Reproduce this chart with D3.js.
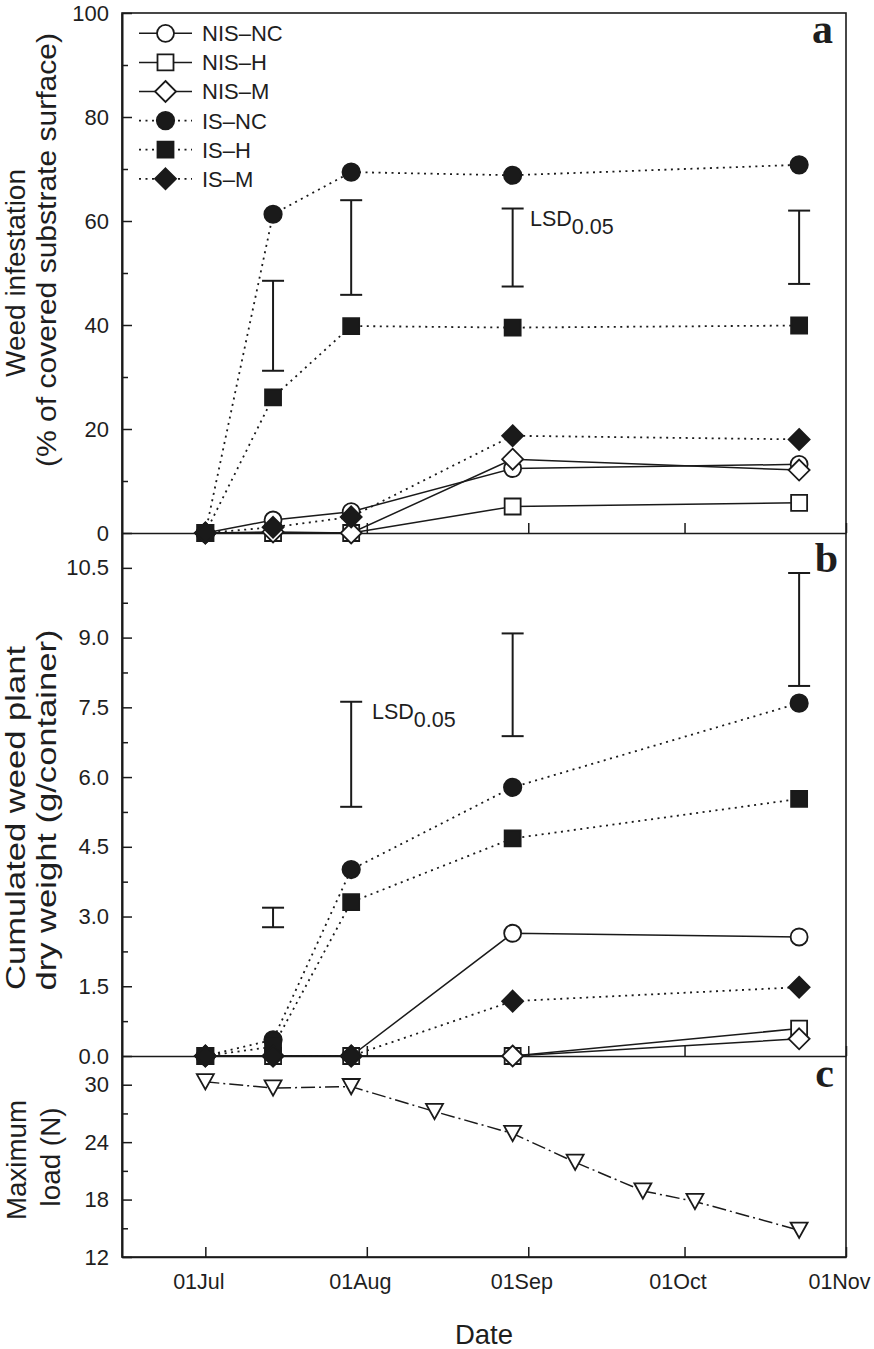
<!DOCTYPE html>
<html><head><meta charset="utf-8">
<script src="https://cdn.jsdelivr.net/npm/d3@7"></script>
<style>
body{margin:0;background:#fff}
text{font-family:"Liberation Sans",Arial,sans-serif;fill:#1e1e1e}
</style>
</head><body>
<svg id="chart" width="874" height="1349"></svg>
<script>
// ---------- DATA ----------
const sampleDates = ["2010-07-01","2010-07-14","2010-07-29","2010-08-29","2010-10-23"];
const seriesNames = ["NIS\u2013NC","NIS\u2013H","NIS\u2013M","IS\u2013NC","IS\u2013H","IS\u2013M"];

// panel a: weed infestation (% of covered substrate surface)
const coverNIS_NC = [0, 2.5, 4.1, 12.4, 13.2];
const coverNIS_H  = [0, 0, 0, 5.1, 5.8];
const coverNIS_M  = [0, 0.2, 0, 14.2, 12.1];
const coverIS_NC  = [0, 61.3, 69.4, 68.8, 70.8];
const coverIS_H   = [0, 26.1, 39.8, 39.5, 39.9];
const coverIS_M   = [0, 1.1, 3.1, 18.7, 18.0];
const coverLSDDates = ["2010-07-14","2010-07-29","2010-08-29","2010-10-23"];
const coverLSDLow   = [31.2, 45.8, 47.4, 47.9];
const coverLSDHigh  = [48.5, 64.0, 62.4, 62.0];

// panel b: cumulated weed plant dry weight (g/container)
const dwNIS_NC = [0, 0, 0, 2.64, 2.56];
const dwNIS_H  = [0, 0, 0, 0, 0.59];
const dwNIS_M  = [0, 0, 0, 0, 0.37];
const dwIS_NC  = [0, 0.35, 4.01, 5.78, 7.59];
const dwIS_H   = [0, 0.2, 3.31, 4.68, 5.53];
const dwIS_M   = [0, 0, 0, 1.18, 1.48];
const dwLSDDates = ["2010-07-14","2010-07-29","2010-08-29","2010-10-23"];
const dwLSDLow   = [2.77, 5.36, 6.88, 7.96];
const dwLSDHigh  = [3.19, 7.62, 9.09, 10.39];

// panel c: maximum load (N)
const loadDates  = ["2010-07-01","2010-07-14","2010-07-29","2010-08-14","2010-08-29","2010-09-10","2010-09-23","2010-10-03","2010-10-23"];
const loadValues = [30.3, 29.65, 29.8, 27.2, 24.9, 21.9, 18.9, 17.8, 14.8];

// ticks
const xTickDates = ["2010-07-01","2010-08-01","2010-09-01","2010-10-01","2010-11-01"];
const yTicksA = [0,20,40,60,80,100];
const yMinorA = [10,30,50,70,90];
const yTicksB = [0,1.5,3,4.5,6,7.5,9,10.5];
const yMinorB = [0.75,2.25,3.75,5.25,6.75,8.25,9.75];
const yTicksC = [12,18,24,30];
const yMinorC = [15,21,27];

// ---------- SETUP ----------
const parse = d3.timeParse("%Y-%m-%d");
const svg = d3.select("#chart");
const L = 122, R = 846;
const x = d3.scaleTime().domain([parse("2010-06-15"), parse("2010-11-01")]).range([L, R]);
const ya = d3.scaleLinear().domain([0,100]).range([533,13]);
const yb = d3.scaleLinear().domain([0,11.25]).range([1056,533]);
const yc = d3.scaleLinear().domain([12,33]).range([1257,1056]);

const INK = "#1a1a1a";

// custom symbol shapes
const symDiamond = {draw(c, s){ const h = Math.sqrt(s)/2; c.moveTo(0,-h); c.lineTo(h,0); c.lineTo(0,h); c.lineTo(-h,0); c.closePath(); }};
const symTriDown = {draw(c, s){ const w = Math.sqrt(s)/2; const h = w*0.9; c.moveTo(-w,-h); c.lineTo(w,-h); c.lineTo(0,h); c.closePath(); }};
const shapes = [
  {type:d3.symbolCircle, size:Math.PI*8.5*8.5, fill:"#fff"},
  {type:d3.symbolSquare, size:16*16, fill:"#fff"},
  {type:symDiamond, size:21*21, fill:"#fff"},
  {type:d3.symbolCircle, size:Math.PI*8.7*8.7, fill:INK},
  {type:d3.symbolSquare, size:16*16, fill:INK},
  {type:symDiamond, size:21*21, fill:INK}
];
const dashes = [null,null,null,"2,4.5","2,4.5","2,4.5"];

const dates = sampleDates.map(parse);

function drawPanel(y, seriesArr){
  const g = svg.append("g");
  seriesArr.forEach((vals,i)=>{
    const line = d3.line().x((d,j)=>x(dates[j])).y(d=>y(d));
    g.append("path").attr("d", line(vals)).attr("fill","none")
      .attr("stroke", INK).attr("stroke-width", dashes[i]?1.8:1.5)
      .attr("stroke-dasharray", dashes[i]);
  });
  seriesArr.forEach((vals,i)=>{
    const sym = d3.symbol().type(shapes[i].type).size(shapes[i].size);
    g.selectAll(null).data(vals).enter().append("path")
      .attr("d", sym).attr("transform",(d,j)=>`translate(${x(dates[j])},${y(d)})`)
      .attr("fill", shapes[i].fill).attr("stroke", INK).attr("stroke-width", 1.8);
  });
}

function drawLSD(y, ds, lo, hi){
  const g = svg.append("g").attr("stroke", INK).attr("stroke-width", 2);
  ds.forEach((d,i)=>{
    const cx = x(parse(d));
    g.append("line").attr("x1",cx).attr("x2",cx).attr("y1",y(lo[i])).attr("y2",y(hi[i]));
    g.append("line").attr("x1",cx-11).attr("x2",cx+11).attr("y1",y(lo[i])).attr("y2",y(lo[i]));
    g.append("line").attr("x1",cx-11).attr("x2",cx+11).attr("y1",y(hi[i])).attr("y2",y(hi[i]));
  });
}

function lsdLabel(px, py){
  const t = svg.append("text").attr("x",px).attr("y",py).attr("font-size",21.5);
  t.append("tspan").text("LSD");
  t.append("tspan").attr("dy",8).text("0.05");
}

function styleAxis(g, fs){
  g.select(".domain").attr("stroke", INK).attr("stroke-width",1.6);
  g.selectAll(".tick line").attr("stroke", INK).attr("stroke-width",1.5);
  g.attr("font-size", fs).attr("font-family","Liberation Sans, Arial, sans-serif");
  g.selectAll("text").attr("font-size",fs).attr("fill","#1e1e1e");
}

function leftAxis(y, major, minor, fmt){
  const g1 = svg.append("g").attr("transform",`translate(${L},0)`)
    .call(d3.axisLeft(y).tickValues(major).tickSize(-10).tickSizeOuter(0).tickPadding(13).tickFormat(fmt));
  styleAxis(g1, 22);
  const g2 = svg.append("g").attr("transform",`translate(${L},0)`)
    .call(d3.axisLeft(y).tickValues(minor).tickSize(-6).tickSizeOuter(0).tickFormat(""));
  styleAxis(g2, 22);
}

function bottomAxis(y0, labels){
  const ax = d3.axisBottom(x).tickValues(xTickDates.map(parse)).tickSize(-10).tickSizeOuter(0).tickPadding(17)
    .tickFormat(labels ? d3.timeFormat("%d%b") : "");
  const g = svg.append("g").attr("transform",`translate(0,${y0})`).call(ax);
  styleAxis(g, 21.5);
  if(labels) g.selectAll(".tick text").attr("dx", -7);
}

// frame
svg.append("rect").attr("x",L).attr("y",13).attr("width",R-L).attr("height",1257-13)
  .attr("fill","none").attr("stroke",INK).attr("stroke-width",1.6);

// axes
leftAxis(ya, yTicksA, yMinorA, d3.format("d"));
leftAxis(yb, yTicksB, yMinorB, d3.format(".1f"));
leftAxis(yc, yTicksC, yMinorC, d3.format("d"));
bottomAxis(533, false);
bottomAxis(1056, false);
bottomAxis(1257, true);

// panel a
drawLSD(ya, coverLSDDates, coverLSDLow, coverLSDHigh);
lsdLabel(530, 226);
drawPanel(ya, [coverNIS_NC, coverNIS_H, coverNIS_M, coverIS_NC, coverIS_H, coverIS_M]);

// panel b
drawLSD(yb, dwLSDDates, dwLSDLow, dwLSDHigh);
lsdLabel(372, 719);
drawPanel(yb, [dwNIS_NC, dwNIS_H, dwNIS_M, dwIS_NC, dwIS_H, dwIS_M]);

// panel c
const ld = loadDates.map(parse);
svg.append("path").attr("d", d3.line().x((d,j)=>x(ld[j])).y(d=>yc(d))(loadValues))
  .attr("fill","none").attr("stroke",INK).attr("stroke-width",1.5).attr("stroke-dasharray","14,4,2,4");
svg.selectAll(null).data(loadValues).enter().append("path")
  .attr("d", d3.symbol().type(symTriDown).size(17*17))
  .attr("transform",(d,j)=>`translate(${x(ld[j])},${yc(d)})`)
  .attr("fill","#fff").attr("stroke",INK).attr("stroke-width",1.8);

// legend
const legY0 = 33.3, legDY = 29.1;
seriesNames.forEach((nm,i)=>{
  const ly = legY0 + i*legDY;
  svg.append("line").attr("x1",139).attr("x2",192).attr("y1",ly).attr("y2",ly)
    .attr("stroke",INK).attr("stroke-width", dashes[i]?1.8:1.5).attr("stroke-dasharray", dashes[i]);
  svg.append("path").attr("d", d3.symbol().type(shapes[i].type).size(shapes[i].size))
    .attr("transform",`translate(165.5,${ly})`).attr("fill",shapes[i].fill).attr("stroke",INK).attr("stroke-width",1.8);
  svg.append("text").attr("x",202).attr("y",ly).attr("dy","0.36em").attr("font-size",22).text(nm);
});

// panel letters
[["a",833,43],["b",838,572],["c",834,1087]].forEach(([t,px,py])=>{
  svg.append("text").attr("x",px).attr("y",py).attr("text-anchor","end")
    .attr("font-weight","bold").attr("font-size",42)
    .style("font-family","'Liberation Serif','Times New Roman',serif").text(t);
});

// axis titles
function vtitle(txt, bx, cy, len){
  const t = svg.append("text").attr("transform",`translate(${bx},${cy}) rotate(-90)`)
    .attr("text-anchor","middle").attr("font-size",27).text(txt);
  if(len) t.attr("textLength",len).attr("lengthAdjust","spacingAndGlyphs");
}
vtitle("Weed infestation", 25, 273, 208);
vtitle("(% of covered substrate surface)", 56, 250, 434);
vtitle("Cumulated weed plant", 25, 818, 344);
vtitle("dry weight  (g/container)", 56, 810, 361);
vtitle("Maximum", 26, 1160, 120);
vtitle("load (N)", 60, 1157, 99);
svg.append("text").attr("x",484).attr("y",1344).attr("text-anchor","middle").attr("font-size",27.5).text("Date");
</script>
</body></html>
